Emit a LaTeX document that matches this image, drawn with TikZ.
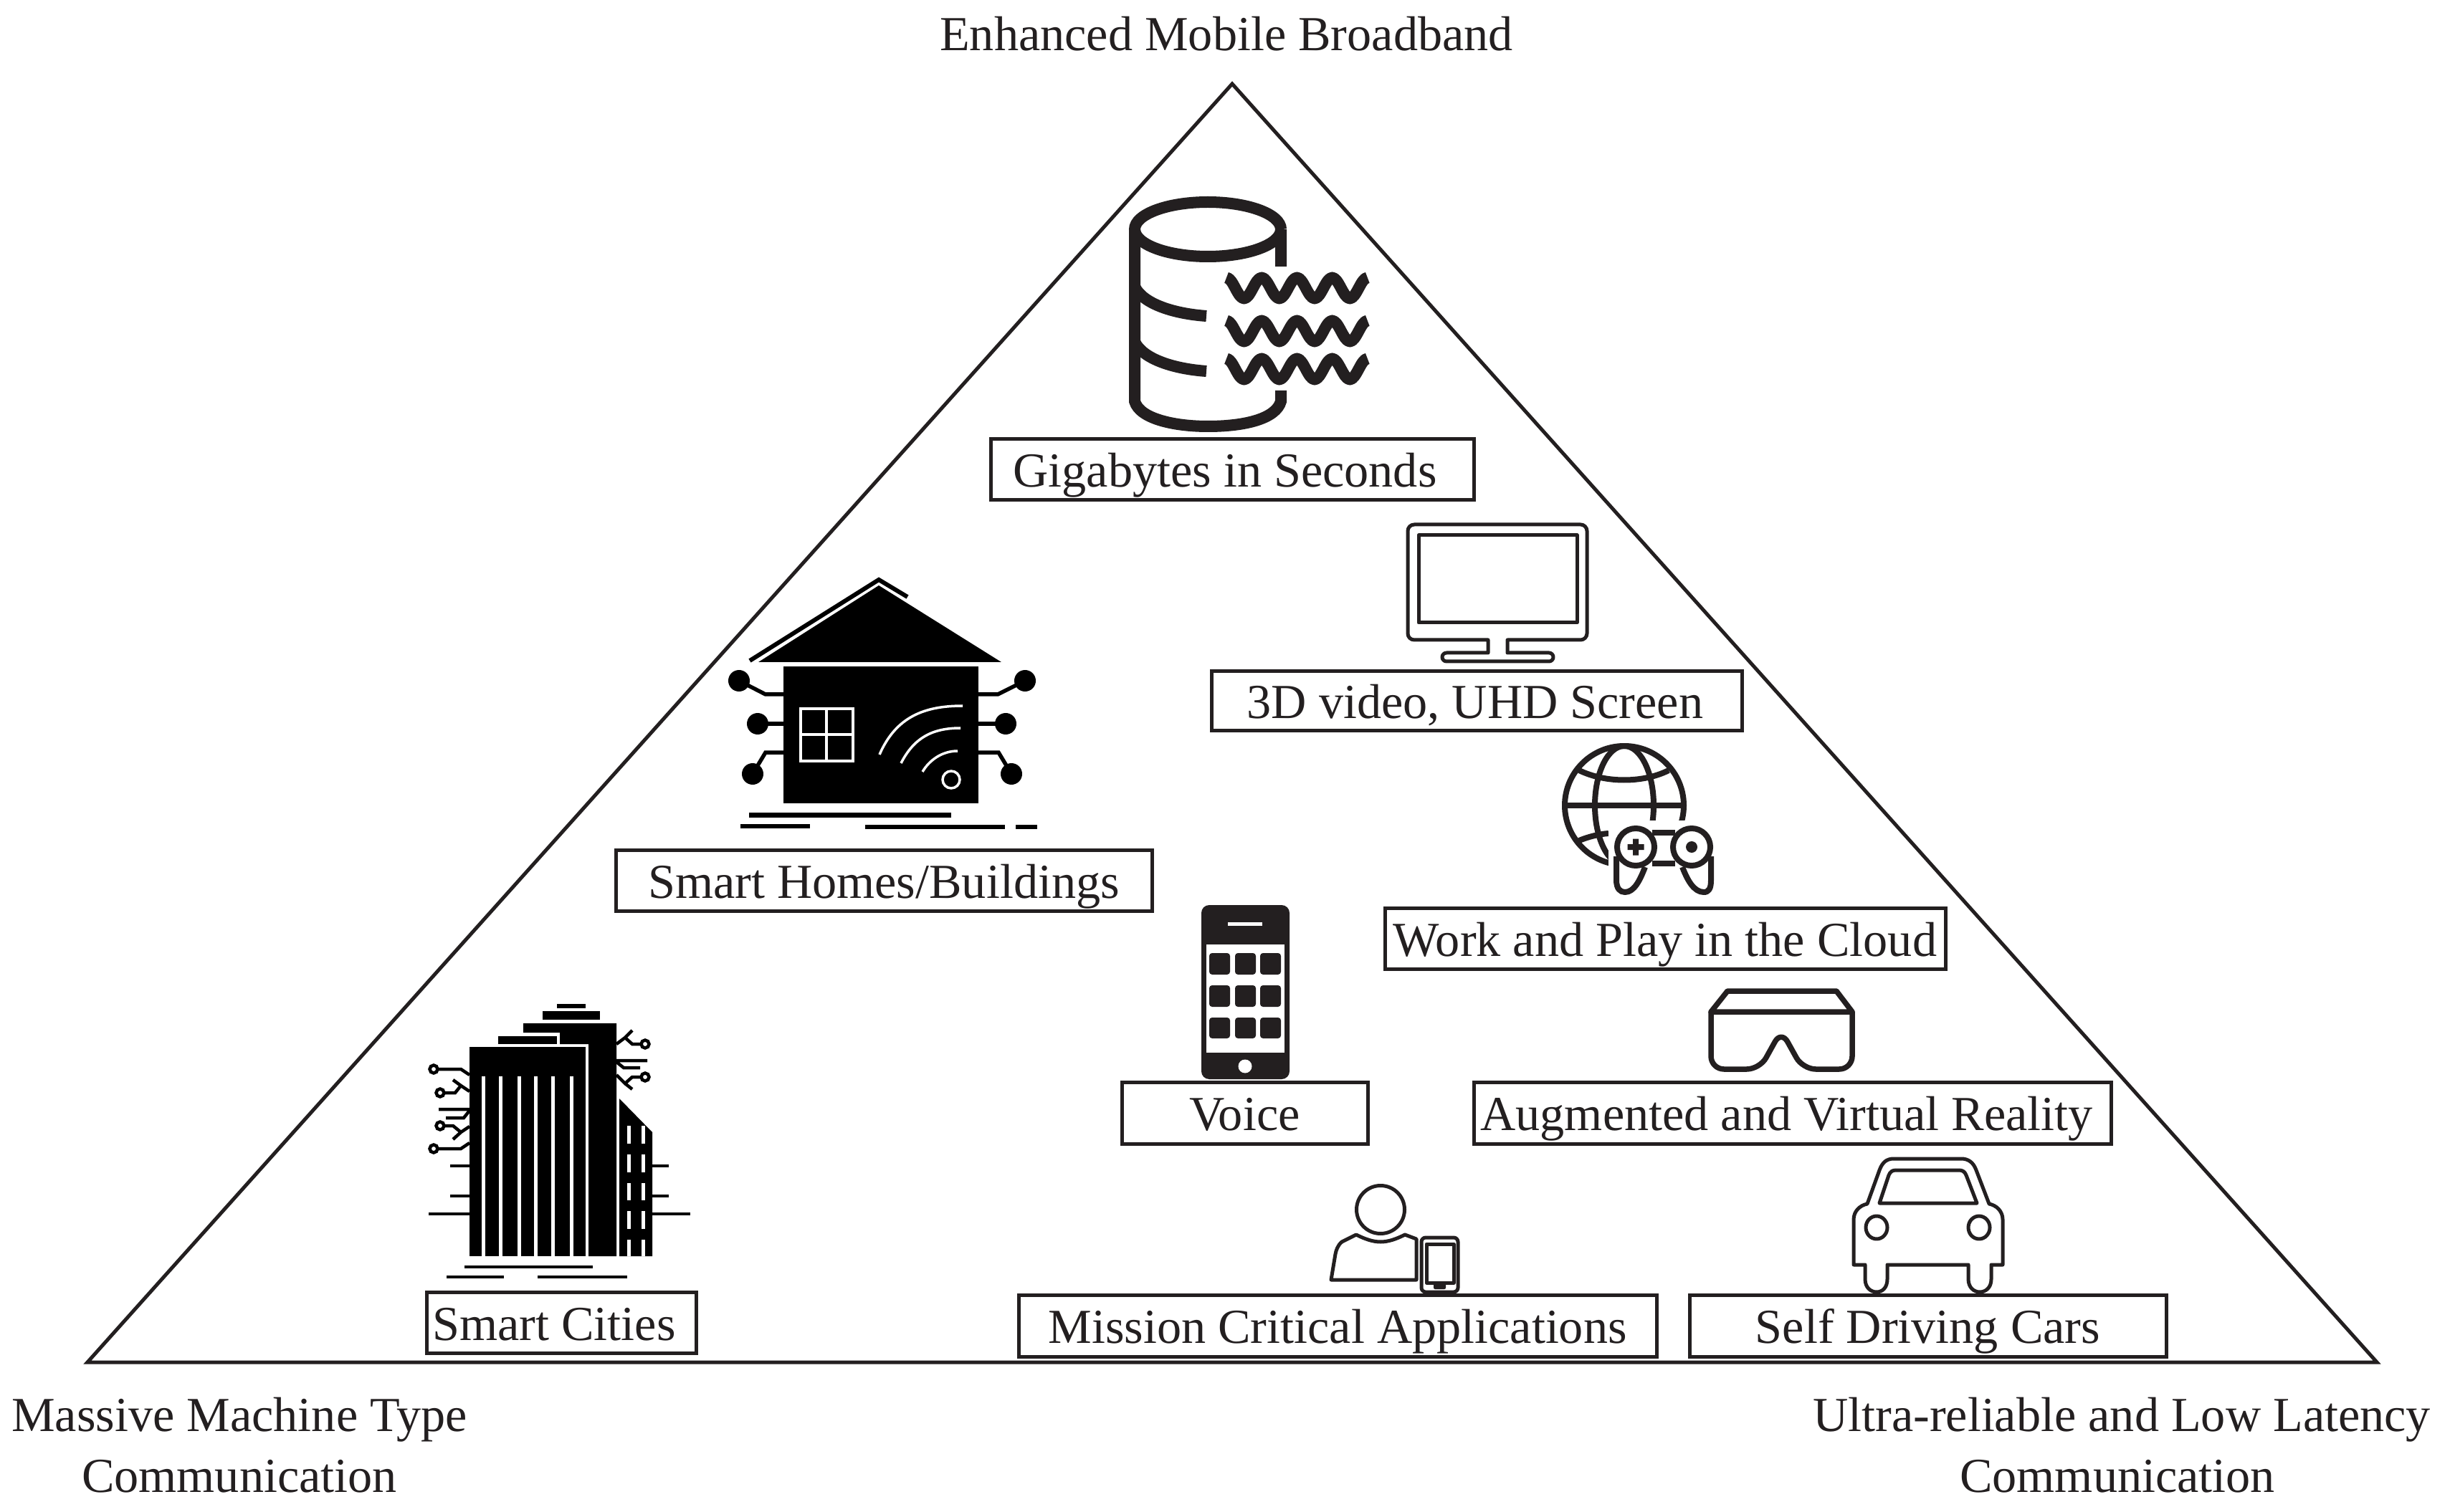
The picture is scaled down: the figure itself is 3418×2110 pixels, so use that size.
\documentclass[tikz,border=0pt]{standalone}
\usepackage{fontspec}
\setmainfont{Liberation Serif}
\newdimen\px \px=0.01cm
\definecolor{ink}{HTML}{231F20}
\tikzset{
  lbox/.style={draw=ink,line width=5\px,inner sep=0pt,outer sep=0pt,text=ink,align=center,text height=49\px,text depth=0pt,font=\fontsize{19.4}{23}\selectfont},
  ltxt/.style={inner sep=0pt,outer sep=0pt,text=ink,text height=45\px,text depth=0pt,font=\fontsize{19.4}{23}\selectfont},
  tri/.style={draw=ink,line width=5\px,miter limit=20},
  db/.style={draw=ink,line width=16\px},
  wav/.style={draw=ink,line width=16\px,line join=round},
  ic/.style={draw=ink,line width=5\px,line join=round},
  ict/.style={draw=ink,line width=7.5\px,line join=round},
  icg/.style={draw=ink,line width=8\px,line join=round},
  wl/.style={draw=white,line width=3.5\px},
  bl/.style={draw=black,line width=5.5\px},
  blt/.style={draw=black,line width=4.5\px},
  wst/.style={draw=white,line width=5\px},
}
\newcommand{\dn}{.. controls +(9,0) and +(-9,0) .. ++(24.6,29)}
\newcommand{\up}{.. controls +(9,0) and +(-9,0) .. ++(24.6,-29)}
\newcommand{\wavyline}[1]{%
  \draw[wav] (1711,#1) \dn\space \up\space \dn\space \up\space \dn\space \up\space \dn\space \up;}
\begin{document}
\begin{tikzpicture}[x=0.01cm,y=-0.01cm]
\useasboundingbox (0,0) rectangle (3418,2110);
\fill[white] (0,0) rectangle (3418,2110);
% triangle
\draw[tri] (1719,117) -- (122,1901) -- (3316,1901) -- cycle;
% outside labels
\node[ltxt] (top) at (1711,48) {Enhanced Mobile Broadband};
\node[ltxt] (ml1) at (334,1975) {Massive Machine Type};
\node[ltxt] (ml2) at (334,2060) {Communication};
\node[ltxt] (ur1) at (2960,1975) {Ultra-reliable and Low Latency};
\node[ltxt] (ur2) at (2954,2060) {Communication};
% boxes
\node[lbox,minimum width=674\px,minimum height=85\px] (gig) at (1719,655.5) {\hspace*{-20\px}Gigabytes in Seconds};
\node[lbox,minimum width=740\px,minimum height=83\px] (uhd) at (2060,978.5) {\hspace*{-4\px}3D video, UHD Screen};
\node[lbox,minimum width=748\px,minimum height=85\px] (home) at (1233,1228.5) {Smart Homes/Buildings};
\node[lbox,minimum width=782\px,minimum height=85\px] (work) at (2323,1309.5) {Work and Play in the Cloud};
\node[lbox,minimum width=343\px,minimum height=86\px] (voice) at (1736.5,1553) {Voice};
\node[lbox,minimum width=889\px,minimum height=86\px] (ar) at (2500.5,1553) {\hspace*{-16\px}Augmented and Virtual Reality};
\node[lbox,minimum width=376\px,minimum height=85\px] (city) at (783,1845.5) {\hspace*{-20\px}Smart Cities};
\node[lbox,minimum width=890\px,minimum height=86\px] (mission) at (1866,1850) {Mission Critical Applications};
\node[lbox,minimum width=665\px,minimum height=86\px] (self) at (2689.5,1850) {Self Driving Cars};
% database
\draw[db] (1787,372) -- (1787,320) arc[start angle=0,end angle=360,x radius=102,y radius=38];
\draw[db] (1583,320) -- (1583,560) .. controls (1590,585) and (1640,595) .. (1685,595) .. controls (1735,595) and (1780,585) .. (1787,560) -- (1787,545);
\draw[db] (1583,400) .. controls (1595,425) and (1640,438) .. (1683,441);
\draw[db] (1583,477) .. controls (1595,502) and (1640,515) .. (1683,518);
\wavyline{387.5}
\wavyline{447.5}
\wavyline{500.5}
% monitor
\draw[ic] (2076,911) -- (2076,893) [rounded corners=9\px] -- (1964,893) -- (1964,732) -- (2214,732) -- (2214,893) [sharp corners] -- (2103,893) -- (2103,911) -- (2161,911) arc[start angle=-90,end angle=90,radius=6] -- (2018,923) arc[start angle=90,end angle=270,radius=6] -- cycle;
\draw[ic] (1979,747) rectangle (2200,869);
% globe and gamepad
\draw[icg] (2266,1124) circle[radius=83];
\draw[icg] (2266,1124) ellipse[x radius=41,y radius=83];
\draw[icg] (2183,1124) -- (2349,1124);
\draw[icg] (2203,1075) .. controls (2240,1093) and (2292,1093) .. (2328,1075);
\draw[icg] (2203,1173) .. controls (2215,1168) and (2230,1164) .. (2244,1163);
\fill[white] (2244,1145) rectangle (2400,1260);
\draw[icg] (2305,1162) -- (2337,1162) (2305,1205) -- (2337,1205);
\draw[icg] (2255,1195) -- (2255,1228) .. controls (2255,1240) and (2260,1245) .. (2267,1245) .. controls (2280,1245) and (2288,1228) .. (2295,1210);
\draw[icg] (2387,1195) -- (2387,1228) .. controls (2387,1240) and (2384,1245) .. (2377,1245) .. controls (2363,1245) and (2354,1228) .. (2347,1210);
\draw[icg] (2282,1182) circle[radius=26];
\draw[icg] (2360,1182) circle[radius=26];
\fill[ink] (2360,1182) circle[radius=8];
\fill[ink] (2278,1170.5) rectangle (2286,1193.5) (2270.5,1178) rectangle (2293.5,1186);
% phone
\fill[ink,rounded corners=11\px] (1676,1263) rectangle (1799,1506);
\fill[white] (1683,1318) rectangle (1792,1469);
\fill[white] (1713,1287) rectangle (1761,1292);
\fill[white] (1737,1488) circle[radius=9.5];
\foreach \yy/\yb in {1330/1360,1375/1405,1420/1449}{
  \foreach \xx/\xb in {1687/1716,1723/1752,1758/1787}{
    \fill[ink,rounded corners=4\px] (\xx,\yy) rectangle (\xb,\yb);
  }
}
% person
\draw[ic] (1926,1688) circle[radius=33.5];
\draw[ic] (1857,1786) -- (1976,1786) -- (1976,1729) -- (1960,1723) .. controls (1948,1729) and (1937,1733) .. (1926,1733) .. controls (1915,1733) and (1904,1729) .. (1892,1723) -- (1872,1733) .. controls (1866,1738) and (1864,1745) .. (1863,1750) -- cycle;
\draw[ic,rounded corners=6\px] (1983,1727) rectangle (2034,1803);
\draw[ic] (1990,1736) rectangle (2028,1790);
\fill[ink,rounded corners=2\px] (2000,1790) rectangle (2017,1799);
% VR goggles
\draw[ict] (2387,1412) -- (2410,1383) -- (2562,1383) -- (2584,1412) -- cycle;
\draw[ict,rounded corners=18\px] (2387,1412) -- (2387,1492) -- (2455,1492) -- (2485,1438) -- (2515,1492) -- (2584,1492) -- (2584,1412);
% car
\draw[ic] (2586,1765) -- (2586,1702) .. controls (2586,1690) and (2595,1682) .. (2605,1680) -- (2622,1633) .. controls (2626,1622) and (2632,1617) .. (2642,1617) -- (2736,1617) .. controls (2746,1617) and (2753,1622) .. (2757,1633) -- (2775,1680) .. controls (2785,1682) and (2794,1690) .. (2794,1702) -- (2794,1765) -- (2778,1765) -- (2778,1785) .. controls (2778,1797) and (2770,1803) .. (2762,1803) .. controls (2754,1803) and (2746,1797) .. (2746,1785) -- (2746,1765) -- (2633,1765) -- (2633,1785) .. controls (2633,1797) and (2626,1803) .. (2618,1803) .. controls (2610,1803) and (2602,1797) .. (2602,1785) -- (2602,1765) -- cycle;
\draw[ic] (2622,1679) -- (2635,1640) .. controls (2637,1635) and (2640,1633) .. (2645,1633) -- (2733,1633) .. controls (2738,1633) and (2741,1635) .. (2743,1640) -- (2758,1679) -- cycle;
\draw[ic] (2618,1713) ellipse[x radius=15,y radius=16];
\draw[ic] (2761,1713) ellipse[x radius=15,y radius=16];
% house
\fill[black] (1058,924) -- (1226,817) -- (1397,924) -- cycle;
\draw[black,line width=6\px] (1046,922) -- (1226,809) -- (1266,833);
\fill[black] (1093,930) rectangle (1365,1121);
\draw[wl] (1117,989) rectangle (1190,1062) (1153,989) -- (1153,1062) (1117,1025) -- (1190,1025);
\draw[wl] (1327,1088) circle[radius=12];
\draw[wl] (1287,1077) .. controls (1297,1060) and (1315,1048) .. (1336,1048);
\draw[wl] (1257,1065) .. controls (1275,1030) and (1300,1016) .. (1340,1016);
\draw[wl] (1227,1053) .. controls (1250,1000) and (1290,985) .. (1343,985);
\draw[bl] (1031,950) -- (1068,969) -- (1093,969);
\draw[bl] (1057,1010) -- (1093,1010);
\draw[bl] (1050,1080) -- (1068,1050) -- (1093,1050);
\draw[bl] (1430,950) -- (1392,969) -- (1365,969);
\draw[bl] (1403,1010) -- (1365,1010);
\draw[bl] (1411,1080) -- (1393,1050) -- (1365,1050);
\foreach \cx/\cy in {1031/950,1057/1010,1050/1080,1430/950,1403/1010,1411/1080}{\fill[black] (\cx,\cy) circle[radius=15];}
\draw[black,line width=7\px] (1045,1137) -- (1327,1137);
\draw[black,line width=6\px] (1033,1153) -- (1130,1153) (1207,1154) -- (1402,1154) (1417,1154) -- (1447,1154);
% city
\fill[black] (730,1428) -- (860,1428) -- (860,1753) -- (821,1753) -- (821,1457) -- (781,1457) -- (781,1441) -- (730,1441) -- cycle;
\fill[black] (655,1461) rectangle (817,1753);
\fill[black] (695,1446) rectangle (777,1457);
\fill[black] (757,1411) rectangle (837,1423);
\fill[black] (777,1401) rectangle (817,1407);
\foreach \sx in {674,698,724,747,771,797}{\draw[wst] (\sx,1502) -- (\sx,1753);}
\fill[black] (864,1533) -- (910,1580) -- (910,1753) -- (864,1753) -- cycle;
\foreach \sx in {877,897}{
  \foreach \ya/\yb in {1571/1596,1611/1636,1651/1675,1690/1715,1730/1753}{
    \draw[wst] (\sx,\ya) -- (\sx,\yb);
  }
}
\draw[blt] (628,1627) -- (655,1627) (628,1669) -- (655,1669) (598,1694) -- (655,1694);
\draw[blt] (910,1627) -- (933,1627) (910,1669) -- (933,1669) (910,1694) -- (963,1694);
\draw[blt] (648,1768) -- (827,1768) (623,1782) -- (703,1782) (750,1782) -- (875,1782);
\draw[blt] (610,1492) -- (643,1492) -- (655,1500);
\draw[blt] (619,1525) -- (635,1525) -- (643,1515) -- (655,1523) (643,1515) -- (632,1507);
\draw[blt] (612,1548) -- (655,1548) (622,1560) -- (647,1560) -- (655,1550);
\draw[blt] (619,1571) -- (632,1571) -- (643,1580) -- (655,1572) (643,1580) -- (632,1590);
\draw[blt] (610,1603) -- (643,1603) -- (655,1595);
\draw[blt] (895,1457) -- (882,1457) -- (872,1448) -- (860,1457) (872,1448) -- (882,1438);
\draw[blt] (860,1480) -- (903,1480) (860,1482) -- (870,1490) -- (893,1490);
\draw[blt] (895,1503) -- (882,1503) -- (872,1512) -- (860,1500) (872,1512) -- (882,1520);
\foreach \cx/\cy in {605/1492,614/1525,614/1571,605/1603,900/1457,900/1503}{\draw[blt] (\cx,\cy) circle[radius=5.5];}
\end{tikzpicture}
\end{document}
